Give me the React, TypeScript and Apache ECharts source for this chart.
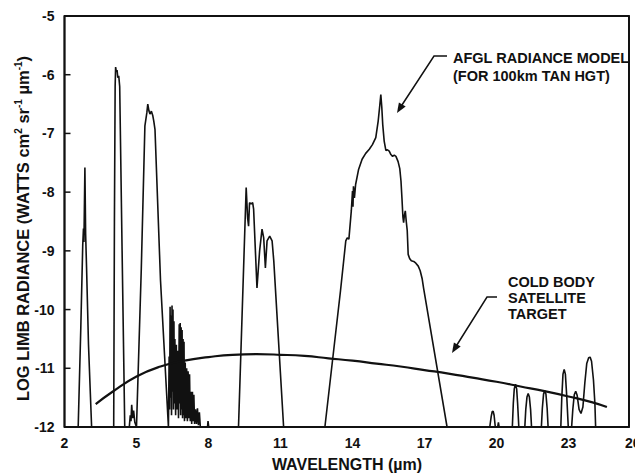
import React, { useEffect, useRef } from "react";
import * as echarts from "echarts";

// Axis ticks
const xTickValues = [2, 5, 8, 11, 14, 17, 20, 23, 26];
const yTickValues = [-12, -11, -10, -9, -8, -7, -6, -5];

// AFGL radiance model (wavelength µm, log radiance) per emission band
const band28 = [[2.0, -12], [2.57, -12], [2.68, -10.3], [2.76, -8.9], [2.79, -8.62], [2.81, -8.85], [2.85, -7.58], [2.88, -8.7], [2.92, -9.3], [3.0, -10.6], [3.13, -12]];
const band43 = [[4.05, -12], [4.08, -8.5], [4.11, -6.2], [4.13, -5.87], [4.16, -5.95], [4.19, -5.92], [4.22, -6.05], [4.26, -6.02], [4.3, -6.2], [4.4, -9.0], [4.51, -12]];
const band48 = [[4.7, -12], [4.74, -11.8], [4.77, -11.9], [4.8, -11.62], [4.84, -11.85], [4.88, -11.72], [4.93, -11.92], [5.0, -12]];
const band55 = [[5.02, -12], [5.2, -9.3], [5.35, -6.87], [5.43, -6.65], [5.47, -6.5], [5.52, -6.62], [5.56, -6.67], [5.62, -6.62], [5.68, -6.7], [5.72, -6.79], [5.77, -6.93], [6.0, -9.5], [6.33, -12]];
const band68 = [[6.34, -12], [6.36, -10.8], [6.38, -11.7], [6.4, -9.95], [6.42, -11.5], [6.44, -10.1], [6.46, -11.8], [6.48, -9.93], [6.5, -11.4], [6.52, -10.0], [6.54, -11.7], [6.56, -10.2], [6.58, -11.6], [6.6, -10.5], [6.63, -11.8], [6.66, -10.6], [6.69, -11.7], [6.72, -10.7], [6.75, -11.85], [6.78, -10.25], [6.8, -11.6], [6.82, -10.23], [6.84, -11.8], [6.86, -10.3], [6.88, -11.7], [6.9, -10.35], [6.92, -11.85], [6.94, -10.5], [6.96, -11.8], [6.98, -10.55], [7.0, -11.9], [7.03, -10.9], [7.06, -11.85], [7.09, -11.0], [7.12, -11.9], [7.15, -11.05], [7.18, -11.85], [7.21, -11.1], [7.24, -11.9], [7.27, -11.4], [7.3, -11.95], [7.33, -11.4], [7.36, -11.9], [7.39, -11.45], [7.42, -11.95], [7.46, -11.7], [7.5, -11.95], [7.54, -11.68], [7.58, -11.97], [7.62, -11.75], [7.66, -12], [7.96, -12], [7.98, -11.9], [8.01, -12]];
const band96 = [[9.25, -12], [9.57, -7.92], [9.63, -8.44], [9.67, -8.58], [9.71, -8.18], [9.78, -8.2], [9.84, -8.18], [9.88, -8.29], [10.02, -9.63], [10.13, -9.0], [10.23, -8.63], [10.3, -8.78], [10.37, -9.29], [10.44, -8.83], [10.55, -8.75], [10.65, -8.83], [10.72, -9.17], [11.13, -12]];
const band15 = [[12.85, -12], [13.5, -9.68], [13.72, -8.83], [13.78, -8.78], [13.85, -8.8], [13.95, -8.32], [14.0, -7.98], [14.02, -8.25], [14.04, -7.9], [14.08, -8.1], [14.13, -7.87], [14.25, -7.62], [14.4, -7.44], [14.55, -7.34], [14.7, -7.27], [14.83, -7.19], [14.97, -7.07], [15.07, -6.79], [15.13, -6.55], [15.18, -6.34], [15.22, -6.55], [15.26, -6.85], [15.32, -7.13], [15.39, -7.29], [15.46, -7.28], [15.53, -7.3], [15.6, -7.36], [15.67, -7.39], [15.74, -7.37], [15.81, -7.39], [15.9, -7.48], [15.97, -7.6], [16.02, -7.81], [16.06, -8.1], [16.1, -8.42], [16.13, -8.52], [16.16, -8.4], [16.2, -8.32], [16.24, -8.5], [16.28, -8.65], [16.32, -9.06], [16.38, -9.13], [16.45, -9.17], [16.55, -9.18], [16.64, -9.21], [16.74, -9.26], [16.82, -9.34], [16.9, -9.47], [16.96, -9.63], [17.94, -12]];
const band20 = [[19.72, -12], [19.78, -11.82], [19.82, -11.74], [19.86, -11.73], [19.9, -11.8], [19.95, -12], [20.05, -12], [20.08, -11.92], [20.11, -12]];
const band208 = [[20.66, -12], [20.7, -11.6], [20.74, -11.35], [20.79, -11.27], [20.84, -11.35], [20.88, -11.6], [20.93, -12]];
const band213 = [[21.18, -12], [21.22, -11.7], [21.27, -11.49], [21.32, -11.43], [21.37, -11.49], [21.42, -11.7], [21.46, -12]];
const band220 = [[21.87, -12], [21.91, -11.68], [21.96, -11.44], [22.01, -11.38], [22.06, -11.44], [22.11, -11.68], [22.15, -12]];
const band228 = [[22.68, -12], [22.72, -11.5], [22.77, -11.1], [22.82, -11.02], [22.87, -11.1], [22.93, -11.5], [22.99, -12]];
const band236 = [[23.13, -12], [23.18, -11.7], [23.24, -11.45], [23.3, -11.39], [23.36, -11.46], [23.44, -11.7], [23.52, -11.77], [23.6, -11.66], [23.68, -11.25], [23.76, -10.92], [23.84, -10.82], [23.9, -10.81], [23.96, -10.88], [24.04, -11.2], [24.1, -11.6], [24.13, -12], [25.52, -12]];

// Cold body satellite target curve
const coldBodyWavelength = [3.3, 4, 5, 6, 7, 8, 9, 10, 11, 12, 13, 14, 15, 16, 17, 18, 19, 20, 21, 22, 23, 24, 24.6];
const coldBodyRadiance = [-11.61, -11.4, -11.14, -10.97, -10.87, -10.81, -10.77, -10.76, -10.77, -10.79, -10.83, -10.87, -10.92, -10.97, -11.03, -11.09, -11.16, -11.23, -11.31, -11.39, -11.48, -11.58, -11.66];

// Plot frame right edge (stops short of the 26 µm tick), in µm
const frameRight = 25.52;

const FONT = "'Liberation Sans', Arial, Helvetica, sans-serif";
const INK = "#111";
const GRID = { left: 64.5, top: 16, width: 576, height: 411 };

export default function App() {
  const ref = useRef<HTMLDivElement>(null);
  useEffect(() => {
    const chart = echarts.init(ref.current as HTMLDivElement, null, { renderer: "svg" });
    const xMin = xTickValues[0];
    const xMax = xTickValues[xTickValues.length - 1];
    const yMin = yTickValues[0];
    const yMax = yTickValues[yTickValues.length - 1];
    const afgl = [
      ...band28, ...band43, ...band48, ...band55, ...band68, ...band96,
      ...band15, ...band20, ...band208, ...band213, ...band220, ...band228, ...band236,
    ];
    const cold = coldBodyWavelength.map((w, i) => [w, coldBodyRadiance[i]]);
    const label = (t: string, x: number, y: number, size: number) => ({
      type: "text",
      x,
      y,
      z: 100,
      silent: true,
      style: {
        text: t,
        fill: INK,
        font: `bold ${size}px ${FONT}`,
        textAlign: "left",
        textVerticalAlign: "middle",
        verticalAlign: "middle",
      },
    });
    chart.setOption({
      animation: false,
      backgroundColor: "#fff",
      grid: { left: GRID.left, top: GRID.top, width: GRID.width, height: GRID.height, outerBoundsMode: "none", containLabel: false },
      xAxis: {
        type: "value",
        min: xMin,
        max: xMax,
        interval: 3,
        axisLine: { show: false },
        axisTick: { show: false },
        splitLine: { show: false },
        axisLabel: { margin: 9, color: INK, fontSize: 14, fontWeight: "bold", fontFamily: FONT, alignMaxLabel: "right" },
        name: "WAVELENGTH (µm)",
        nameLocation: "middle",
        nameGap: 29,
        nameMoveOverlap: false,
        nameTextStyle: { color: INK, fontSize: 16, fontWeight: "bold", fontFamily: FONT, padding: [0, 11, 0, 0] },
      },
      yAxis: {
        type: "value",
        min: yMin,
        max: yMax,
        interval: 1,
        axisLine: { show: false },
        axisTick: { show: false },
        splitLine: { show: false },
        axisLabel: { margin: 10, color: INK, fontSize: 14, fontWeight: "bold", fontFamily: FONT },
        name: "LOG LIMB RADIANCE (WATTS cm{sup|2} sr{sup|-1} µm{sup|-1})",
        nameLocation: "middle",
        nameRotate: 90,
        nameGap: 33,
        nameMoveOverlap: false,
        nameTextStyle: {
          color: INK,
          fontSize: 16.5,
          fontWeight: "bold",
          fontFamily: FONT,
          padding: [0, 14, 0, 0],
          rich: {
            sup: { fontSize: 10, fontWeight: "bold", fontFamily: FONT, color: INK, verticalAlign: "top", padding: [0, 0, 8, 0] },
          },
        },
      },
      series: [
        {
          type: "line",
          data: afgl,
          showSymbol: false,
          silent: true,
          clip: false,
          lineStyle: { color: INK, width: 1.6 },
        },
        {
          type: "line",
          data: cold,
          smooth: true,
          showSymbol: false,
          silent: true,
          clip: false,
          lineStyle: { color: INK, width: 2.2 },
        },
      ],
    });
    const toPx = (x: number, y: number): number[] => {
      let p: any = null;
      try {
        p = chart.convertToPixel({ seriesIndex: 0 }, [x, y]);
      } catch (e) {
        p = null;
      }
      if (p && isFinite(Number(p[0])) && isFinite(Number(p[1]))) return [Number(p[0]), Number(p[1])];
      return [
        GRID.left + ((x - xMin) / (xMax - xMin)) * GRID.width,
        GRID.top + ((yMax - y) / (yMax - yMin)) * GRID.height,
      ];
    };
    const tl = toPx(xMin, yMax);
    const br = toPx(frameRight, yMin);
    const seg = (x1: number, y1: number, x2: number, y2: number, w: number) => ({
      type: "line",
      z: 100,
      silent: true,
      shape: { x1, y1, x2, y2 },
      style: { stroke: INK, lineWidth: w },
    });
    const frameSegs = [
      seg(tl[0], tl[1], br[0], tl[1], 1.8),
      seg(br[0], tl[1], br[0], br[1], 1.8),
      seg(br[0], br[1], tl[0], br[1], 1.8),
      seg(tl[0], br[1], tl[0], tl[1], 1.8),
    ];
    const tickSegs = yTickValues.map((v) => {
      const a = toPx(xMin, v);
      return seg(a[0], a[1], a[0] + 6, a[1], 1.5);
    });
    chart.setOption({
      graphic: [
        {
          type: "polygon",
          z: 100,
          silent: true,
          shape: { points: [[tl[0], tl[1]], [br[0], tl[1]], [br[0], br[1]], [tl[0], br[1]]] },
          style: { stroke: INK, lineWidth: 1.8, fill: "none" },
        },
        ...frameSegs,
        ...tickSegs,
        label("AFGL RADIANCE MODEL", 453, 58, 14.5),
        label("(FOR 100km TAN HGT)", 453, 76, 14.5),
        label("COLD BODY", 508, 282, 14.5),
        label("SATELLITE", 508, 298, 14.5),
        label("TARGET", 508, 314, 14.5),
        { type: "polyline", z: 100, silent: true, shape: { points: [[447, 56], [434, 56], [400, 108]] }, style: { stroke: INK, lineWidth: 1.5, fill: null } },
        { type: "polygon", z: 100, silent: true, shape: { points: [[397, 113], [405.7, 106.6], [398.9, 102.4]] }, style: { fill: INK } },
        { type: "polyline", z: 100, silent: true, shape: { points: [[497, 297], [487, 297], [455, 348]] }, style: { stroke: INK, lineWidth: 1.5, fill: null } },
        { type: "polygon", z: 100, silent: true, shape: { points: [[452, 353], [460.7, 346.6], [453.9, 342.4]] }, style: { fill: INK } },
      ],
    });
    return () => chart.dispose();
  }, []);
  return <div ref={ref} style={{ position: "fixed", left: 0, top: 0, width: 635, height: 473 }} />;
}
